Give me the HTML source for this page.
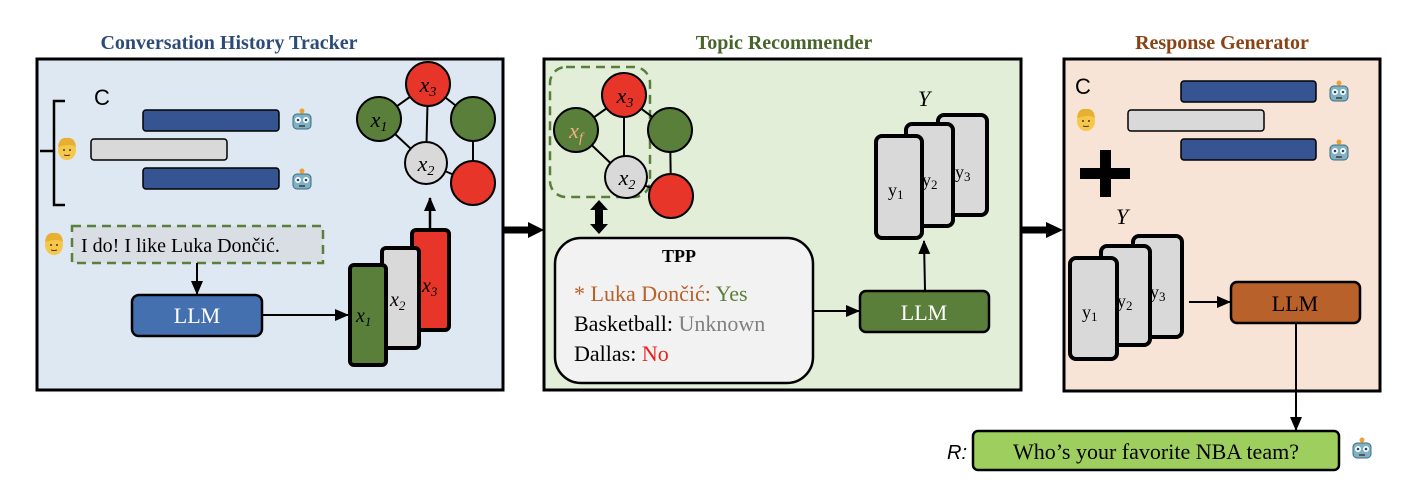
<!DOCTYPE html>
<html><head><meta charset="utf-8"><style>
html,body{margin:0;padding:0;background:#fff;}
svg{display:block;}
text{font-family:"Liberation Serif",serif;}
.s{font-family:"Liberation Sans",sans-serif;}
</style></head><body>
<svg width="1410" height="486" viewBox="0 0 1410 486" xmlns="http://www.w3.org/2000/svg">
<defs>
<marker id="a" markerWidth="14" markerHeight="14" refX="13" refY="7" orient="auto" markerUnits="userSpaceOnUse"><path d="M0,1 L14,7 L0,13 z" fill="#000"/></marker>
<g id="robot"><rect x="-9" y="-7" width="18" height="15" rx="4" fill="#7fb2c4" stroke="#3d6c80" stroke-width="1"/><circle cx="-4" cy="-1" r="3" fill="#fff"/><circle cx="4" cy="-1" r="3" fill="#fff"/><circle cx="-4" cy="-1" r="1.3" fill="#246"/><circle cx="4" cy="-1" r="1.3" fill="#246"/><rect x="-3" y="4" width="6" height="2" fill="#555"/><circle cx="0" cy="-10" r="2.5" fill="#f0a030"/></g>
<g id="face"><ellipse cx="0" cy="1" rx="9" ry="10" fill="#f6c84a"/><path d="M-9,-2 Q-8,-12 0,-11 Q8,-12 9,-2 Q4,-6 -9,-2z" fill="#e8b030"/><circle cx="-3" cy="1" r="1" fill="#532"/><circle cx="3" cy="1" r="1" fill="#532"/><path d="M-3,6 Q0,7 3,6" stroke="#532" fill="none"/></g>
</defs>

<text x="229" y="49" text-anchor="middle" font-size="20" font-weight="bold" fill="#2d4b78">Conversation History Tracker</text>
<text x="784" y="49" text-anchor="middle" font-size="20" font-weight="bold" fill="#48642a">Topic Recommender</text>
<text x="1222" y="49" text-anchor="middle" font-size="20" font-weight="bold" fill="#8b4214">Response Generator</text>

<rect x="37" y="59" width="466" height="331" fill="#dee8f3" stroke="#000" stroke-width="3"/>
<rect x="544" y="59" width="477" height="331" fill="#e2eed8" stroke="#000" stroke-width="3"/>
<rect x="1064" y="59" width="316" height="332" fill="#f8e4d6" stroke="#000" stroke-width="3"/>

<line x1="503" y1="230" x2="530" y2="230" stroke="#000" stroke-width="7"/>
<path d="M528,222 L544,230 L528,238z" fill="#000"/>
<line x1="1021" y1="230" x2="1048" y2="230" stroke="#000" stroke-width="7"/>
<path d="M1046,222 L1063,230 L1046,238z" fill="#000"/>

<!-- Panel 1 -->
<text x="94" y="105" class="s" font-size="22" fill="#000">C</text>
<path d="M65,101 L54,101 L54,205 L65,205 M54,151 L40,151" stroke="#000" stroke-width="2.5" fill="none"/>
<rect x="143" y="110" width="136" height="21" rx="3" fill="#375492" stroke="#000" stroke-width="1.5"/>
<rect x="91" y="139" width="136" height="21" rx="3" fill="#d9d9d9" stroke="#000" stroke-width="1.5"/>
<rect x="143" y="168" width="136" height="21" rx="3" fill="#375492" stroke="#000" stroke-width="1.5"/>
<use href="#robot" x="302" y="121"/>
<use href="#robot" x="302" y="181"/>
<use href="#face" x="67" y="149"/>
<use href="#face" x="54" y="244"/>
<g stroke="#000" stroke-width="2">
<line x1="379" y1="119" x2="428" y2="84"/><line x1="428" y1="84" x2="473" y2="119"/><line x1="428" y1="84" x2="426" y2="163"/>
<line x1="379" y1="119" x2="426" y2="163"/><line x1="473" y1="119" x2="473" y2="183"/><line x1="426" y1="163" x2="473" y2="183"/>
<circle cx="428" cy="84" r="22" fill="#e8352a"/><circle cx="379" cy="119" r="22" fill="#5a7f3a"/><circle cx="473" cy="119" r="22" fill="#5a7f3a"/>
<circle cx="426" cy="163" r="21" fill="#d9d9d9"/><circle cx="473" cy="183" r="22" fill="#e8352a"/>
</g>
<text x="428" y="92" text-anchor="middle" font-size="22" font-style="italic">x<tspan font-size="14" dy="4">3</tspan></text>
<text x="379" y="127" text-anchor="middle" font-size="22" font-style="italic">x<tspan font-size="14" dy="4">1</tspan></text>
<text x="426" y="171" text-anchor="middle" font-size="22" font-style="italic">x<tspan font-size="14" dy="4">2</tspan></text>
<line x1="430" y1="230" x2="430" y2="198" stroke="#000" stroke-width="2.5" marker-end="url(#a)"/>
<rect x="72" y="226" width="251" height="37" fill="#d9dde4" stroke="#5a7f3a" stroke-width="2.5" stroke-dasharray="9,6"/>
<text x="81" y="252" font-size="20">I do! I like Luka Dončić.</text>
<line x1="197" y1="263" x2="197" y2="294" stroke="#000" stroke-width="2" marker-end="url(#a)"/>
<rect x="132" y="295" width="130" height="41" rx="7" fill="#4470b0" stroke="#000" stroke-width="2.5"/>
<text x="197" y="323" text-anchor="middle" font-size="22" fill="#fff">LLM</text>
<line x1="262" y1="315" x2="348" y2="315" stroke="#000" stroke-width="2" marker-end="url(#a)"/>
<rect x="412" y="230" width="37" height="100" rx="4" fill="#e8352a" stroke="#000" stroke-width="4"/>
<rect x="382" y="248" width="37" height="100" rx="4" fill="#d9d9d9" stroke="#000" stroke-width="4"/>
<rect x="350" y="265" width="36" height="100" rx="4" fill="#5a7f3a" stroke="#000" stroke-width="4"/>
<text x="422" y="292" font-size="20" font-style="italic">x<tspan font-size="13" dy="4">3</tspan></text>
<text x="390" y="306" font-size="20" font-style="italic">x<tspan font-size="13" dy="4">2</tspan></text>
<text x="356" y="322" font-size="20" font-style="italic">x<tspan font-size="13" dy="4">1</tspan></text>

<!-- Panel 2 -->
<rect x="550" y="67" width="100" height="130" rx="16" fill="none" stroke="#5a7f3a" stroke-width="2.5" stroke-dasharray="9,6"/>
<g stroke="#000" stroke-width="2">
<line x1="576" y1="130" x2="624" y2="96"/><line x1="624" y1="96" x2="670" y2="130"/><line x1="624" y1="96" x2="624" y2="178"/>
<line x1="576" y1="130" x2="626" y2="178"/><line x1="670" y1="130" x2="671" y2="196"/><line x1="626" y1="178" x2="671" y2="196"/>
<circle cx="624" cy="95" r="22" fill="#e8352a"/><circle cx="576" cy="130" r="22" fill="#5a7f3a"/><circle cx="670" cy="130" r="22" fill="#5a7f3a"/>
<circle cx="626" cy="177" r="21" fill="#d9d9d9"/><circle cx="671" cy="196" r="22" fill="#e8352a"/>
</g>
<text x="625" y="103" text-anchor="middle" font-size="22" font-style="italic">x<tspan font-size="14" dy="4">3</tspan></text>
<text x="576" y="138" text-anchor="middle" font-size="22" font-style="italic" fill="#f0b080">x<tspan font-size="14" dy="4">f</tspan></text>
<text x="627" y="185" text-anchor="middle" font-size="22" font-style="italic">x<tspan font-size="14" dy="4">2</tspan></text>
<path d="M599,200 L608,210 L603,210 L603,224 L608,224 L599,234 L590,224 L595,224 L595,210 L590,210 z" fill="#000"/>
<rect x="555" y="238" width="258" height="145" rx="26" fill="#f2f2f2" stroke="#000" stroke-width="2.5"/>
<text x="679" y="262" text-anchor="middle" font-size="18" font-weight="bold">TPP</text>
<text x="574" y="301" font-size="22" fill="#b8612a">* Luka Dončić: <tspan fill="#5a7f3a">Yes</tspan></text>
<text x="574" y="331" font-size="22">Basketball: <tspan fill="#808080">Unknown</tspan></text>
<text x="574" y="361" font-size="22">Dallas: <tspan fill="#e8201a">No</tspan></text>
<line x1="813" y1="311" x2="859" y2="311" stroke="#000" stroke-width="2" marker-end="url(#a)"/>
<rect x="860" y="291" width="129" height="41" rx="6" fill="#5a7f3a" stroke="#000" stroke-width="2.5"/>
<text x="924" y="320" text-anchor="middle" font-size="22" fill="#fff">LLM</text>
<line x1="925" y1="290" x2="924" y2="241" stroke="#000" stroke-width="2" marker-end="url(#a)"/>
<text x="918" y="106" font-size="22" font-style="italic">Y</text>
<rect x="938" y="115" width="49" height="100" rx="6" fill="#d9d9d9" stroke="#000" stroke-width="4"/>
<rect x="906" y="124" width="47" height="102" rx="6" fill="#d9d9d9" stroke="#000" stroke-width="4"/>
<rect x="876" y="136" width="46" height="102" rx="6" fill="#d9d9d9" stroke="#000" stroke-width="4"/>
<text x="955" y="178" font-size="18">y<tspan font-size="13" dy="3">3</tspan></text>
<text x="922" y="186" font-size="18">y<tspan font-size="13" dy="3">2</tspan></text>
<text x="888" y="196" font-size="18">y<tspan font-size="13" dy="3">1</tspan></text>

<!-- Panel 3 -->
<text x="1075" y="94" class="s" font-size="22">C</text>
<rect x="1181" y="81" width="135" height="21" rx="3" fill="#375492" stroke="#000" stroke-width="1.5"/>
<rect x="1128" y="110" width="136" height="21" rx="3" fill="#d9d9d9" stroke="#000" stroke-width="1.5"/>
<rect x="1181" y="139" width="135" height="21" rx="3" fill="#375492" stroke="#000" stroke-width="1.5"/>
<use href="#robot" x="1339" y="93"/>
<use href="#robot" x="1339" y="152"/>
<use href="#face" x="1086" y="120"/>
<rect x="1080" y="168" width="50" height="11" fill="#000"/>
<rect x="1100" y="150" width="11" height="47" fill="#000"/>
<text x="1116" y="224" font-size="22" font-style="italic">Y</text>
<rect x="1133" y="236" width="49" height="101" rx="6" fill="#d9d9d9" stroke="#000" stroke-width="4"/>
<rect x="1101" y="246" width="49" height="99" rx="6" fill="#d9d9d9" stroke="#000" stroke-width="4"/>
<rect x="1070" y="258" width="47" height="101" rx="6" fill="#d9d9d9" stroke="#000" stroke-width="4"/>
<text x="1150" y="298" font-size="18">y<tspan font-size="13" dy="3">3</tspan></text>
<text x="1117" y="307" font-size="18">y<tspan font-size="13" dy="3">2</tspan></text>
<text x="1082" y="318" font-size="18">y<tspan font-size="13" dy="3">1</tspan></text>
<line x1="1189" y1="302" x2="1230" y2="302" stroke="#000" stroke-width="2" marker-end="url(#a)"/>
<rect x="1231" y="282" width="129" height="41" rx="6" fill="#b8612a" stroke="#000" stroke-width="2.5"/>
<text x="1295" y="311" text-anchor="middle" font-size="22">LLM</text>
<line x1="1296" y1="323" x2="1296" y2="430" stroke="#000" stroke-width="2" marker-end="url(#a)"/>
<text x="947" y="459" font-size="20" font-style="italic" class="s">R:</text>
<rect x="973" y="431" width="366" height="39" rx="5" fill="#9ecf5e" stroke="#000" stroke-width="2.5"/>
<text x="1156" y="459" text-anchor="middle" font-size="22">Who’s your favorite NBA team?</text>
<use href="#robot" x="1362" y="450"/>
</svg>
</body></html>
